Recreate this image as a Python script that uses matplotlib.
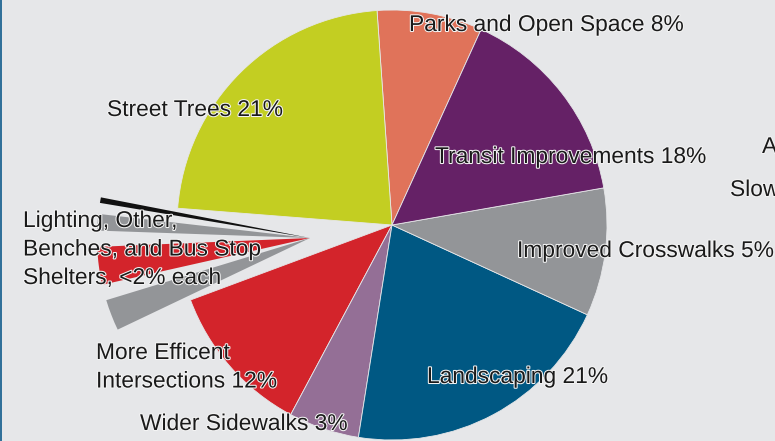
import matplotlib
matplotlib.use("Agg")
import matplotlib.pyplot as plt
import matplotlib.patheffects as pe
from matplotlib.lines import Line2D

# ---- data (shares) ----
main_categories = ["Parks and Open Space", "Street Trees", "(small items)",
                   "More Efficent Intersections", "Wider Sidewalks",
                   "Landscaping", "Improved Crosswalks", "Transit Improvements"]
main_values = [7.9, 22.6, 6.9, 11.5, 5.3, 20.6, 9.6, 15.4]
main_colors = ["#E0735A", "#C3CE22", "none", "#D3242B", "#946F96",
               "#005883", "#939598", "#652166"]

small_categories = ["Lighting", "(gap)", "Other", "(gap)", "Benches", "(gap)",
                    "Bus Stop Shelters", "(rest)"]
small_values = [0.42, 0.83, 1.25, 1.22, 2.86, 1.19, 2.36, 89.87]
small_colors = ["#111111", "none", "#939598", "none", "#D3242B", "none",
                "#939598", "none"]

labels = [
    "Parks and Open Space 8%",
    "Street Trees 21%",
    "Transit Improvements 18%",
    "Improved Crosswalks 5%",
    "Landscaping 21%",
    "Wider Sidewalks 3%",
    "More Efficent\nIntersections 12%",
    "Lighting, Other,\nBenches, and Bus Stop\nShelters, <2% each",
    "A",
    "Slow",
]
# label positions (left x, first baseline y) in image pixels (y down)
label_pos = [(409, 31), (107, 116), (435, 163), (517, 257), (427, 383),
             (140, 430), (96, 359), (23, 227), (762, 153), (730, 196)]

W, H = 775, 441
BG = "#E6E7E9"

fig = plt.figure(figsize=(W / 100, H / 100), dpi=100, facecolor=BG)
ax = fig.add_axes([0, 0, 1, 1])
ax.set_facecolor(BG)

wedges, _ = ax.pie(main_values, colors=main_colors, startangle=65.5,
                   counterclock=True, center=(392, H - 225), radius=215,
                   wedgeprops=dict(edgecolor="#E6E7E9", linewidth=0.6))
for w, c in zip(wedges, main_colors):
    if c == "none":
        w.set_visible(False)

wedges2, _ = ax.pie(small_values, colors=small_colors, startangle=169,
                    counterclock=True, center=(310, H - 238), radius=213,
                    wedgeprops=dict(edgecolor="none", linewidth=0))
for w, c in zip(wedges2, small_colors):
    if c == "none":
        w.set_visible(False)

ax.set_xlim(0, W)
ax.set_ylim(0, H)
ax.set_aspect("auto")
ax.set_position([0, 0, 1, 1])
ax.axis("off")

fam = ["Liberation Sans", "DejaVu Sans"]
halo = [pe.withStroke(linewidth=1.5, foreground="#F4F4F4")]
line_step = 28.5
for text, (x, y) in zip(labels, label_pos):
    for i, line in enumerate(text.split("\n")):
        ax.text(x, H - (y + i * line_step), line, ha="left", va="baseline",
                fontsize=16.4, family=fam, color="#1A1A1A",
                path_effects=halo, clip_on=False)

fig.add_artist(Line2D([0.8 / W, 0.8 / W], [0, 1], transform=fig.transFigure,
                      color="#1F6592", linewidth=1.3))

fig.savefig("out.png", dpi=100, facecolor=BG)
